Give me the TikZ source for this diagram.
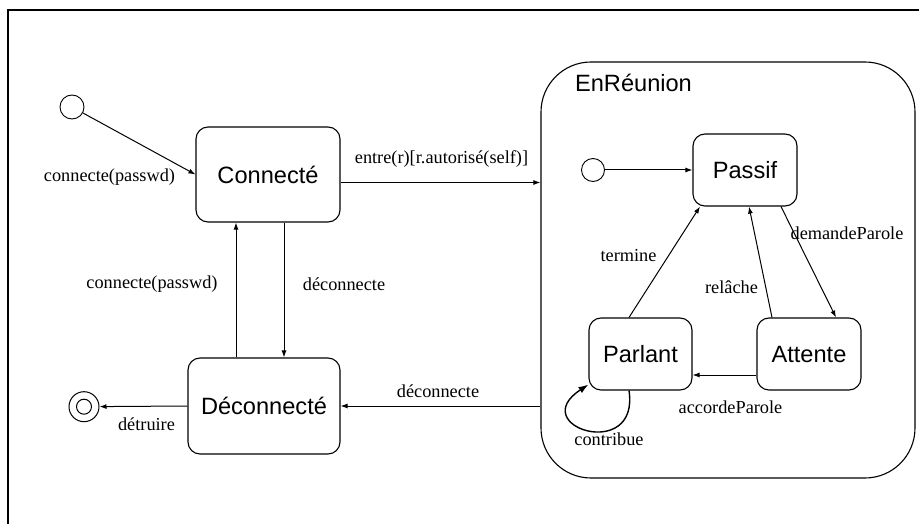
\documentclass[tikz,border=0pt]{standalone}
\usepackage{fontspec}
\setmainfont{Liberation Serif}
\setsansfont{Liberation Sans}
\usetikzlibrary{arrows.meta}
\tikzset{
  statebox/.style={draw, line width=1.1pt, rounded corners=12pt, inner sep=0pt,
    font=\sffamily\fontsize{23.6}{26}\selectfont},
  initst/.style={draw, circle, line width=0.9pt, inner sep=0pt},
  lbl/.style={font=\fontsize{18.3}{20}\selectfont, inner sep=0pt},
  arr/.style={line width=1pt, -{Latex[length=7pt,width=5pt]}},
  looparr/.style={line width=1.4pt, -{Latex[length=10pt,width=7pt]}},
}
\begin{document}
\begin{tikzpicture}[x=1pt,y=-1pt]
\useasboundingbox (0,0) rectangle (919,524);
\fill[white] (0,0) rectangle (919,524);
% frame (clipped at right and bottom)
\draw[line width=1.5pt] (8,526) -- (8,10) -- (921,10);

% left part
\node[initst, minimum size=24pt] (init1) at (72,107) {};
\node[statebox, minimum width=144pt, minimum height=95pt] (conn) at (268,174.5) {Connecté};
\node[statebox, minimum width=152pt, minimum height=96pt] (deconn) at (264,406) {Déconnecté};
\node[draw, circle, line width=1pt, minimum size=30pt, inner sep=0pt] (final) at (84,406.7) {};
\node[draw, circle, line width=1pt, minimum size=15pt, inner sep=0pt] (finalin) at (final.center) {};

% composite state
\node[draw, line width=1.1pt, rounded corners=50pt, minimum width=374pt, minimum height=416pt, inner sep=0pt] (reunion) at (728,270) {};
\node[font=\sffamily\fontsize{23.6}{26}\selectfont, inner sep=0pt] (reutitle) at (633.5,83) {EnRéunion};
\node[initst, minimum size=23pt] (init2) at (593,170) {};
\node[statebox, minimum width=104pt, minimum height=72pt] (passif) at (745,170) {Passif};
\node[statebox, minimum width=103pt, minimum height=72pt] (parlant) at (640.5,354) {Parlant};
\node[statebox, minimum width=104pt, minimum height=72pt] (attente) at (809,354) {Attente};

% transitions, left part
\draw[arr] (init1) -- (conn.west);
\node[lbl] (l1) at (109.5,177) {connecte(passwd)};

\draw[arr] ([yshift=-8pt]conn.east) -- ([yshift=-8pt]conn.east -| reunion.west);
\node[lbl] (l2) at (441.5,159) {entre(r)[r.autorisé(self)]};

\draw[arr] ([xshift=-28pt]deconn.north) -- ([xshift=-28pt]deconn.north |- conn.south);
\node[lbl] (l3) at (152,284) {connecte(passwd)};

\draw[arr] ([xshift=20pt]deconn.north |- conn.south) -- ([xshift=20pt]deconn.north);
\node[lbl] (l4) at (344,284) {déconnecte};

\draw[arr] (reunion.west |- deconn.east) -- (deconn.east);
\node[lbl] (l5) at (438,391) {déconnecte};

\draw[arr] (deconn.west) -- (final);
\node[lbl] (l6) at (146.5,424) {détruire};

% transitions inside EnRéunion
\draw[arr] (init2) -- (passif.west |- init2);

\draw[arr] ([xshift=-11.5pt]parlant.north) -- ([xshift=-45pt]passif.south);
\node[lbl] (l7) at (628.5,256) {termine};

\draw[arr] ([xshift=-37pt]attente.north) -- ([xshift=4pt]passif.south);
\node[lbl] (l8) at (731.5,287) {relâche};

\draw[arr] ([xshift=36pt]passif.south) -- ([xshift=27pt]attente.north);
\node[lbl] (l9) at (847,233) {demandeParole};

\draw[arr] ([yshift=-21pt]attente.west) -- ([yshift=-21pt]attente.west -| parlant.east);
\node[lbl] (l10) at (730.5,407) {accordeParole};

\draw[looparr] ([xshift=-11.5pt]parlant.south) .. controls +(11,72) and +(-64,42) .. ([yshift=6pt]parlant.south west);
\node[lbl] (l11) at (609,439) {contribue};
\end{tikzpicture}
\end{document}
